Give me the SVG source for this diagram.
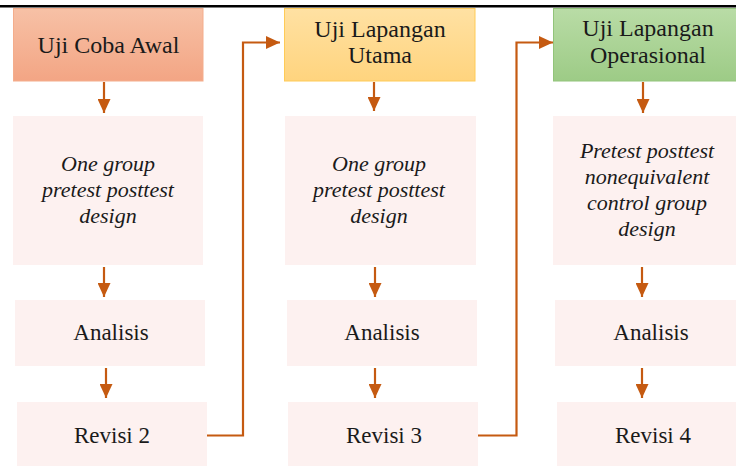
<svg xmlns="http://www.w3.org/2000/svg" width="736" height="466" viewBox="0 0 736 466">
<defs>
<linearGradient id="gOrange" x1="0" y1="0" x2="0" y2="1"><stop offset="0" stop-color="#F7C1A6"/><stop offset="1" stop-color="#F3A584"/></linearGradient>
<linearGradient id="gYellow" x1="0" y1="0" x2="0" y2="1"><stop offset="0" stop-color="#FFE1A3"/><stop offset="1" stop-color="#FFD47E"/></linearGradient>
<linearGradient id="gGreen" x1="0" y1="0" x2="0" y2="1"><stop offset="0" stop-color="#B9DCA6"/><stop offset="1" stop-color="#9DCB86"/></linearGradient>
<marker id="ah" markerUnits="userSpaceOnUse" markerWidth="14" markerHeight="13" refX="14" refY="6.5" orient="auto"><path d="M0,0 L14,6.5 L0,13 z" fill="#C55A11"/></marker>
<style>
.hd{font-family:"Liberation Serif","Times New Roman",serif;font-size:24px;fill:#1a1a1a;text-anchor:middle}
.it{font-family:"Liberation Serif","Times New Roman",serif;font-size:22px;font-style:italic;fill:#1a1a1a;text-anchor:middle}
.tx{font-family:"Liberation Serif","Times New Roman",serif;font-size:23px;fill:#1a1a1a;text-anchor:middle}
.pk{fill:#FDF1F0}
.cn{fill:none;stroke:#C55A11;stroke-width:2.2;marker-end:url(#ah)}
</style>
</defs>
<rect width="736" height="466" fill="#FFFFFF"/>
<rect x="0" y="5" width="736" height="2.5" fill="#000000"/>

<g id="uji-coba-awal"><rect x="13.5" y="8.5" width="189.5" height="72.5" fill="url(#gOrange)" stroke="#F4AD8C"/><text class="hd" x="108.5" y="53">Uji Coba Awal</text></g>
<g id="uji-lapangan-utama"><rect x="284.5" y="8.5" width="190.5" height="72.5" fill="url(#gYellow)" stroke="#FFCB57"/><text class="hd" x="380" y="37">Uji Lapangan</text><text class="hd" x="380" y="63">Utama</text></g>
<g id="uji-lapangan-operasional"><rect x="553.5" y="8.5" width="190" height="72.5" fill="url(#gGreen)" stroke="#92C47A"/><text class="hd" x="648" y="36">Uji Lapangan</text><text class="hd" x="648" y="63">Operasional</text></g>

<g id="design-1"><rect class="pk" x="13" y="116" width="190" height="149"/><text class="it" x="108" y="171">One group</text><text class="it" x="108" y="197">pretest posttest</text><text class="it" x="108" y="223">design</text></g>
<g id="design-2"><rect class="pk" x="285" y="116" width="191" height="149"/><text class="it" x="379" y="171">One group</text><text class="it" x="379" y="197">pretest posttest</text><text class="it" x="379" y="223">design</text></g>
<g id="design-3"><rect class="pk" x="553" y="116" width="190" height="149"/><text class="it" x="647" y="158">Pretest posttest</text><text class="it" x="647" y="184">nonequivalent</text><text class="it" x="647" y="210">control group</text><text class="it" x="647" y="236">design</text></g>

<g id="analisis-1"><rect class="pk" x="15" y="300" width="190" height="66"/><text class="tx" x="111" y="340">Analisis</text></g>
<g id="analisis-2"><rect class="pk" x="287" y="300" width="190" height="66"/><text class="tx" x="382" y="340">Analisis</text></g>
<g id="analisis-3"><rect class="pk" x="555" y="300" width="190" height="66"/><text class="tx" x="651" y="340">Analisis</text></g>

<g id="revisi-2"><rect class="pk" x="17" y="402" width="190" height="64"/><text class="tx" x="112" y="443">Revisi 2</text></g>
<g id="revisi-3"><rect class="pk" x="288" y="402" width="190" height="64"/><text class="tx" x="384" y="443">Revisi 3</text></g>
<g id="revisi-4"><rect class="pk" x="557" y="402" width="190" height="64"/><text class="tx" x="653" y="443">Revisi 4</text></g>

<g id="connectors">
<path class="cn" d="M104,82 V113"/>
<path class="cn" d="M104,267 V297"/>
<path class="cn" d="M106,368 V398"/>
<path class="cn" d="M374,82 V111"/>
<path class="cn" d="M375,267 V297"/>
<path class="cn" d="M375,368 V398"/>
<path class="cn" d="M643,82 V113"/>
<path class="cn" d="M642,267 V297"/>
<path class="cn" d="M642,368 V398"/>
<path class="cn" d="M207,435.5 H243 V42.5 H280"/>
<path class="cn" d="M478,435.5 H516.5 V42.5 H553"/>
</g>
</svg>
